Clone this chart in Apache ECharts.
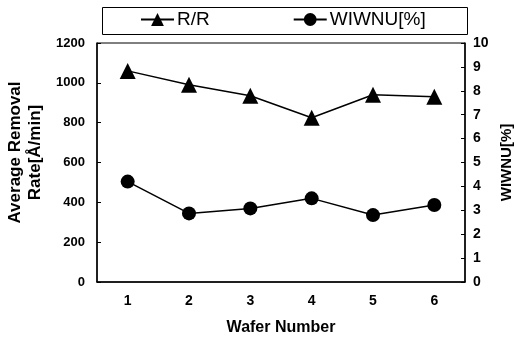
<!DOCTYPE html>
<html>
<head>
<meta charset="utf-8">
<script src="https://cdn.jsdelivr.net/npm/echarts@6/dist/echarts.min.js"></script>
<style>
  html, body { margin: 0; padding: 0; background: #fff; }
  #chart { width: 515px; height: 343px; }
</style>
</head>
<body>
<div id="chart"></div>
<script>
// 数据
var wafers = ['1', '2', '3', '4', '5', '6'];
var removalRate = [1060, 990, 935, 825, 940, 930];
var wiwnu = [4.2, 2.87, 3.08, 3.5, 2.8, 3.22];
var leftTicks = [0, 1200, 200];
var rightTicks = [0, 10, 1];

document.addEventListener('DOMContentLoaded', function () {
  var myChart = echarts.init(document.getElementById('chart'));
  var font = 'Liberation Sans, Arial, sans-serif';

  var option = {
    backgroundColor: '#fff',
    textStyle: { fontFamily: font, color: '#000' },
    graphic: [{
      type: 'rect',
      left: 100, top: 5,
      shape: { width: 365, height: 27 },
      style: { fill: 'none', stroke: '#000', lineWidth: 1 }
    }],
    legend: {
      top: 10,
      left: 140,
      padding: 0,
      itemGap: 83,
      itemWidth: 33,
      itemHeight: 16,
      textStyle: { fontFamily: font, fontSize: 19, color: '#000', padding: [0, 0, 0, -2] },
      data: ['R/R', 'WIWNU[%]']
    },
    grid: {
      left: 97, right: 50, top: 43, bottom: 61,
      outerBoundsMode: 'none',
      containLabel: false,
      show: true, borderColor: '#000', borderWidth: 1
    },
    xAxis: {
      type: 'category',
      data: wafers,
      boundaryGap: true,
      name: 'Wafer Number',
      nameLocation: 'middle',
      nameGap: 38,
      nameTextStyle: { fontFamily: font, fontSize: 16, fontWeight: 'bold', color: '#000' },
      axisLine: { lineStyle: { color: '#000', width: 1.5 } },
      axisTick: { inside: true, length: 4, lineStyle: { color: '#000' } },
      axisLabel: { fontFamily: font, fontSize: 14, fontWeight: 'bold', color: '#000', margin: 12 }
    },
    yAxis: [{
      type: 'value',
      min: leftTicks[0], max: leftTicks[1], interval: leftTicks[2],
      name: 'Average Removal\nRate[Å/min]',
      nameLocation: 'middle',
      nameGap: 52,
      nameRotate: 90,
      nameTextStyle: {
        fontFamily: font, fontSize: 17, fontWeight: 'bold', color: '#000', lineHeight: 20,
        padding: [0, 0, 0, 20]
      },
      axisLine: { show: true, lineStyle: { color: '#000', width: 1.5 } },
      axisTick: { show: true, inside: true, length: 4, lineStyle: { color: '#000' } },
      axisLabel: {
        fontFamily: font, fontSize: 13, fontWeight: 'bold', color: '#000', margin: 12,
        formatter: function (v) { return String(v); }
      },
      splitLine: { show: false }
    }, {
      type: 'value',
      position: 'right',
      min: rightTicks[0], max: rightTicks[1], interval: rightTicks[2],
      name: 'WIWNU[%]',
      nameLocation: 'middle',
      nameGap: 34,
      nameRotate: 90,
      nameTextStyle: { fontFamily: font, fontSize: 15, fontWeight: 'bold', color: '#000' },
      axisLine: { show: true, lineStyle: { color: '#000', width: 1.5 } },
      axisTick: { show: true, inside: true, length: 4, lineStyle: { color: '#000' } },
      axisLabel: { fontFamily: font, fontSize: 14, fontWeight: 'bold', color: '#000', margin: 8 },
      splitLine: { show: false }
    }],
    series: [{
      name: 'R/R',
      type: 'line',
      yAxisIndex: 0,
      data: removalRate,
      symbol: 'triangle',
      symbolSize: 16,
      itemStyle: { color: '#000' },
      lineStyle: { color: '#000', width: 1.5 }
    }, {
      name: 'WIWNU[%]',
      type: 'line',
      yAxisIndex: 1,
      data: wiwnu,
      symbol: 'circle',
      symbolSize: 14,
      itemStyle: { color: '#000' },
      lineStyle: { color: '#000', width: 1.5 }
    }]
  };

  myChart.setOption(option);
});
</script>
</body>
</html>
